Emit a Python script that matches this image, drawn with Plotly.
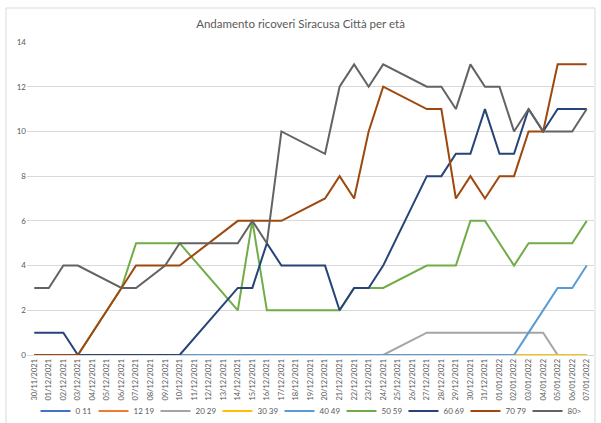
import plotly.graph_objects as go

dates = ["30/11/2021", "01/12/2021", "02/12/2021", "03/12/2021", "04/12/2021", "05/12/2021",
         "06/12/2021", "07/12/2021", "08/12/2021", "09/12/2021", "10/12/2021", "11/12/2021",
         "12/12/2021", "13/12/2021", "14/12/2021", "15/12/2021", "16/12/2021", "17/12/2021",
         "18/12/2021", "19/12/2021", "20/12/2021", "21/12/2021", "22/12/2021", "23/12/2021",
         "24/12/2021", "25/12/2021", "26/12/2021", "27/12/2021", "28/12/2021", "29/12/2021",
         "30/12/2021", "31/12/2021", "01/01/2022", "02/01/2022", "03/01/2022", "04/01/2022",
         "05/01/2022", "06/01/2022", "07/01/2022"]

N = None
age_0_11 = [0, 0, 0, 0, N, N, 0, 0, N, 0, 0, N, N, N, 0, 0, 0, 0, N, N, 0, 0, 0, 0, 0, N, N,
            0, 0, 0, 0, 0, 0, 0, 0, 0, 0, 0, 0]
age_12_19 = [0, 0, 0, 0, N, N, 0, 0, N, 0, 0, N, N, N, 0, 0, 0, 0, N, N, 0, 0, 0, 0, 0, N, N,
             0, 0, 0, 0, 0, 0, 0, 0, 0, 0, 0, 0]
age_20_29 = [0, 0, 0, 0, N, N, 0, 0, N, 0, 0, N, N, N, 0, 0, 0, 0, N, N, 0, 0, 0, 0, 0, N, N,
             1, 1, 1, 1, 1, 1, 1, 1, 1, 0, 0, 0]
age_30_39 = [0, 0, 0, 0, N, N, 0, 0, N, 0, 0, N, N, N, 0, 0, 0, 0, N, N, 0, 0, 0, 0, 0, N, N,
             0, 0, 0, 0, 0, 0, 0, 0, 0, 0, 0, 0]
age_40_49 = [0, 0, 0, 0, N, N, 0, 0, N, 0, 0, N, N, N, 0, 0, 0, 0, N, N, 0, 0, 0, 0, 0, N, N,
             0, 0, 0, 0, 0, 0, 0, 1, 2, 3, 3, 4]
age_50_59 = [0, 0, 0, 0, N, N, 3, 5, N, 5, 5, N, N, N, 2, 6, 2, 2, N, N, 2, 2, 3, 3, 3, N, N,
             4, 4, 4, 6, 6, 5, 4, 5, 5, 5, 5, 6]
age_60_69 = [1, 1, 1, 0, N, N, 0, 0, N, 0, 0, N, N, N, 3, 3, 5, 4, N, N, 4, 2, 3, 3, 4, N, N,
             8, 8, 9, 9, 11, 9, 9, 11, 10, 11, 11, 11]
age_70_79 = [0, 0, 0, 0, N, N, 3, 4, N, 4, 4, N, N, N, 6, 6, 6, 6, N, N, 7, 8, 7, 10, 12, N, N,
             11, 11, 7, 8, 7, 8, 8, 10, 10, 13, 13, 13]
age_80 = [3, 3, 4, 4, N, N, 3, 3, N, 4, 5, N, N, N, 5, 6, 5, 10, N, N, 9, 12, 13, 12, 13, N, N,
          12, 12, 11, 13, 12, 12, 10, 11, 10, 10, 10, 11]

series_names = ["0 11", "12 19", "20 29", "30 39", "40 49", "50 59", "60 69", "70 79", "80>"]
series_values = [age_0_11, age_12_19, age_20_29, age_30_39, age_40_49, age_50_59,
                 age_60_69, age_70_79, age_80]
colors = ["#4472C4", "#ED7D31", "#A5A5A5", "#FFC000", "#5B9BD5", "#70AD47",
          "#264478", "#9E480E", "#636363"]
legend_text_widths = [13, 17, 17, 17, 17, 17, 17, 17, 13]

FONT = "Lato, 'Liberation Sans', sans-serif"
TXT = "#595959"

fig = go.Figure()
for name, vals, col, lw in zip(series_names, series_values, colors, legend_text_widths):
    fig.add_trace(go.Scatter(x=dates, y=vals, name=name, mode="lines",
                             connectgaps=True, legendwidth=lw,
                             line=dict(color=col, width=2)))

fig.update_layout(
    width=601, height=423,
    paper_bgcolor="white", plot_bgcolor="white",
    margin=dict(l=27, r=7, t=42, b=68),
    title=dict(text="Andamento ricoveri Siracusa Città per età", x=0.5, xanchor="center",
               y=1 - 24 / 423, yanchor="middle",
               font=dict(family=FONT, size=11.5, color=TXT)),
    font=dict(family=FONT, size=9, color=TXT),
    showlegend=True,
    legend=dict(orientation="h", x=0.5, xanchor="center",
                yref="container", y=1 - 411 / 423, yanchor="middle",
                font=dict(family=FONT, size=8, color=TXT), itemwidth=30,
                tracegroupgap=0, bgcolor="rgba(0,0,0,0)"),
    xaxis=dict(type="category", tickangle=-90, showgrid=False, showline=True,
               linecolor="#D9D9D9", linewidth=1, ticks="", automargin=False,
               range=[-0.5, len(dates) - 0.5],
               tickfont=dict(family=FONT, size=7.5, color=TXT)),
    yaxis=dict(range=[0, 14], dtick=2, showgrid=True, gridcolor="#D9D9D9", gridwidth=1,
               zeroline=True, zerolinecolor="#D9D9D9", showline=False, ticks="",
               automargin=False,
               tickfont=dict(family=FONT, size=8, color=TXT)),
    shapes=[dict(type="rect", xref="paper", yref="paper",
                 x0=(6 - 27) / 567, x1=(595 - 27) / 567,
                 y0=-0.3, y1=1 + (42 - 8) / 313,
                 line=dict(color="#D9D9D9", width=1), fillcolor="rgba(0,0,0,0)",
                 layer="below")],
)

fig.write_html("out.html", config={"displayModeBar": False},
               post_script="document.body.style.margin='0px';")
